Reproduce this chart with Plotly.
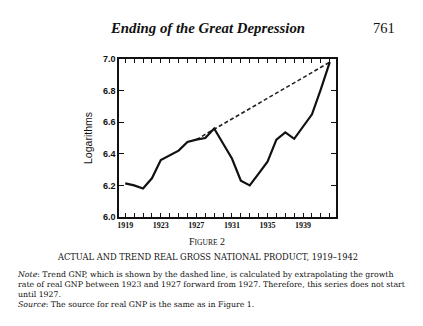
import plotly.graph_objects as go

years = list(range(1919, 1943))
actual_gnp = [6.213, 6.20, 6.18, 6.245, 6.36, 6.39, 6.42, 6.475, 6.49, 6.50, 6.56,
              6.465, 6.37, 6.23, 6.20, 6.275, 6.35, 6.49, 6.535, 6.495, 6.575, 6.65, 6.81, 6.98]
trend_years = [1927, 1942]
trend_gnp = [6.49, 6.98]

x_labels = {1919: "1919", 1923: "1923", 1927: "1927", 1931: "1931", 1935: "1935", 1939: "1939"}
y_ticks = [6.0, 6.2, 6.4, 6.6, 6.8, 7.0]

fig = go.Figure()
fig.add_trace(go.Scatter(x=trend_years, y=trend_gnp, mode="lines",
                         line=dict(color="#222", width=1.6, dash="4px,2.5px"),
                         showlegend=False, hoverinfo="skip"))
fig.add_trace(go.Scatter(x=years, y=actual_gnp, mode="lines",
                         line=dict(color="#111", width=2.2),
                         showlegend=False, hoverinfo="skip"))

serif = "Liberation Serif"
dserif = "DejaVu Serif"
sans = "Liberation Sans"

fig.update_layout(
    width=423, height=326,
    margin=dict(l=119, r=87, t=59, b=109),
    paper_bgcolor="white", plot_bgcolor="white",
    xaxis=dict(range=[1918.3, 1942.7], tickvals=years,
               ticktext=["<b>%s</b>" % x_labels[y] if y in x_labels else "" for y in years],
               ticks="inside", ticklen=4, tickwidth=1, tickcolor="#111",
               showline=True, linecolor="#111", linewidth=1.5, mirror="ticks",
               showgrid=False, zeroline=False,
               tickfont=dict(family=serif, size=8, color="#111")),
    yaxis=dict(range=[6.0, 7.0], tickvals=y_ticks,
               ticktext=["<b>%.1f</b>" % v for v in y_ticks],
               ticks="inside", ticklen=5, tickwidth=1, tickcolor="#111",
               showline=True, linecolor="#111", linewidth=1.5, mirror="ticks",
               showgrid=False, zeroline=False,
               tickfont=dict(family=sans, size=9, color="#111"),
               title=dict(text="Logarithms", font=dict(family=sans, size=10.5, color="#111"),
                          standoff=8)),
)

note_text = ("<i>Note</i>: Trend GNP, which is shown by the dashed line, is calculated by extrapolating the growth<br>"
             "rate of real GNP between 1923 and 1927 forward from 1927. Therefore, this series does not start<br>"
             "until 1927.<br>"
             "<i>Source</i>: The source for real GNP is the same as in Figure 1.")

anns = [
    dict(x=207, y=28, text="<b><i>Ending of the Great Depression</i></b>", size=14.8, xanchor="center", yanchor="middle", family=serif),
    dict(x=384, y=28, text="761", size=14.5, xanchor="center", yanchor="middle", family=serif),
    dict(x=207, y=241.5, text="F<span style='font-size:7.5px'>IGURE</span> 2", size=10, xanchor="center", yanchor="middle", family=serif),
    dict(x=207, y=256.5, text="ACTUAL AND TREND REAL GROSS NATIONAL PRODUCT, 1919–1942", size=8.3, xanchor="center", yanchor="middle", family=dserif),
    dict(x=16, y=268.5, text=note_text, size=7.8, xanchor="left", yanchor="top", family=dserif),
]

plot_l, plot_r, plot_t, plot_b = 119, 336, 59, 217
for a in anns:
    px = (a["x"] - plot_l) / (plot_r - plot_l)
    py = (plot_b - a["y"]) / (plot_b - plot_t)
    fig.add_annotation(x=px, y=py, xref="paper", yref="paper",
                       text=a["text"], showarrow=False, xanchor=a["xanchor"], yanchor=a["yanchor"],
                       align="left", borderpad=0,
                       font=dict(family=a["family"], size=a["size"], color="#111"))

fig.write_html("out.html")
